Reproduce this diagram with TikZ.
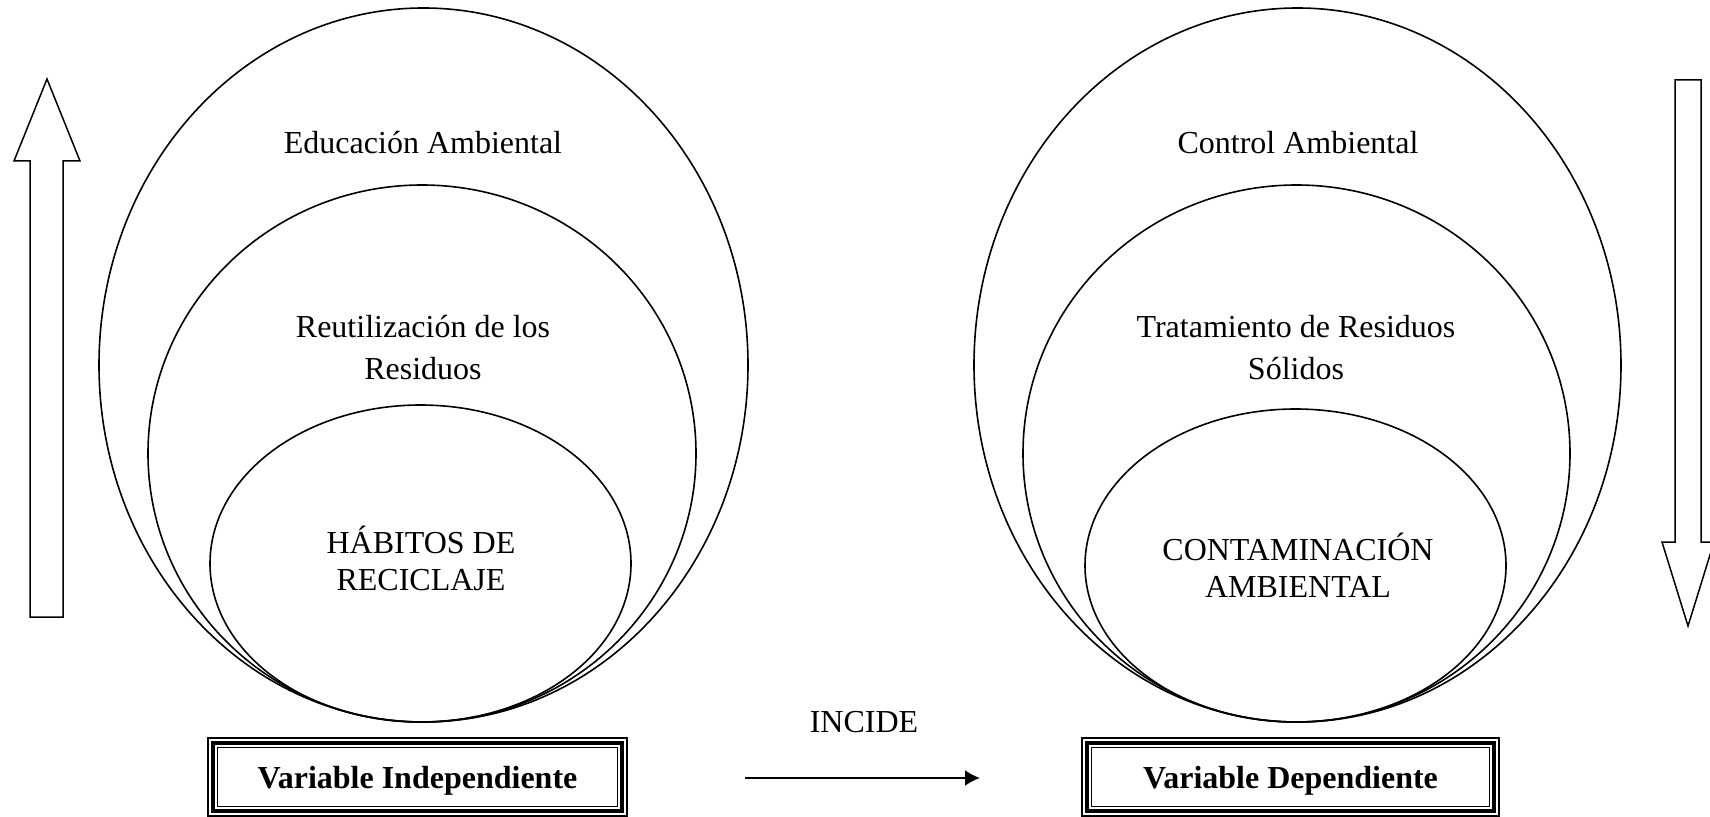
\documentclass[tikz,border=0pt]{standalone}
\usepackage{fontspec}
\setmainfont{Liberation Serif}
\usetikzlibrary{shapes.geometric,arrows.meta}

\begin{document}
\begin{tikzpicture}[x=0.5pt,y=0.5pt,
  ring/.style={ellipse,draw,line width=0.8pt,inner sep=0pt,outer sep=0pt},
  lbl/.style={align=center,font=\fontsize{16}{21}\selectfont},
  caps/.style={align=center,font=\fontsize{16}{18.5}\selectfont},
  varbox/.style={draw,line width=0.85pt,inner sep=0pt,outer sep=0pt,text depth=0pt,
    minimum width=#1,minimum height=29.5pt,font=\fontsize{16}{19}\selectfont\bfseries},
  blockarrow/.style={draw,line width=0.75pt,line join=miter}]
\useasboundingbox (0,0) rectangle (1710,816);

% left variable
\node[ring,minimum width=324.5pt,minimum height=357pt] (eduamb) at (423.5,451) {};
\node[ring,minimum width=274pt,minimum height=268.5pt] (reuti) at (422,362.5) {};
\node[ring,minimum width=210.5pt,minimum height=158.5pt] (habitos) at (420.5,252.5) {};
\node[lbl] (eduambtxt) at (423,673) {Educación Ambiental};
\node[lbl] (reutitxt) at (423,468) {Reutilización de los\\Residuos};
\node[caps] (habitostxt) at (421,258) {HÁBITOS DE\\RECICLAJE};

% right variable
\node[ring,minimum width=323.5pt,minimum height=357pt] (ctrlamb) at (1297.5,451) {};
\node[ring,minimum width=273.5pt,minimum height=268.5pt] (tratam) at (1296.5,362.5) {};
\node[ring,minimum width=210.5pt,minimum height=156.5pt] (contam) at (1295.5,250.5) {};
\node[lbl] (ctrlambtxt) at (1298,673) {Control Ambiental};
\node[lbl] (tratamtxt) at (1296,468) {Tratamiento de Residuos\\Sólidos};
\node[caps] (contamtxt) at (1298,251) {CONTAMINACIÓN\\AMBIENTAL};

% boxes
\node[varbox=200pt] (vind) at (417.5,39) {Variable Independiente};
\draw[line width=2pt] ([shift={(-4.5,-4.5)}]vind.south west) rectangle ([shift={(4.5,4.5)}]vind.north east);
\draw[line width=1pt] ([shift={(-9.5,-9.5)}]vind.south west) rectangle ([shift={(9.5,9.5)}]vind.north east);
\node[varbox=199pt] (vdep) at (1290.5,39) {Variable Dependiente};
\draw[line width=2pt] ([shift={(-4.5,-4.5)}]vdep.south west) rectangle ([shift={(4.5,4.5)}]vdep.north east);
\draw[line width=1pt] ([shift={(-9.5,-9.5)}]vdep.south west) rectangle ([shift={(9.5,9.5)}]vdep.north east);

% incide
\node[lbl] (incide) at (864,94) {INCIDE};
\coordinate (incA) at (745,38);
\coordinate (incB) at (980,38);
\draw[line width=1pt,-{Latex[length=7.5pt,width=8pt]}] (incA) -- (incB);

% block arrows
\draw[blockarrow] (47,737) -- (80,655) -- (63,655) -- (63,199) -- (30,199) -- (30,655) -- (14,655) -- cycle;
\draw[blockarrow] (1688,190) -- (1714,274) -- (1701,274) -- (1701,736) -- (1675,736) -- (1675,274) -- (1662,274) -- cycle;
\end{tikzpicture}
\end{document}
